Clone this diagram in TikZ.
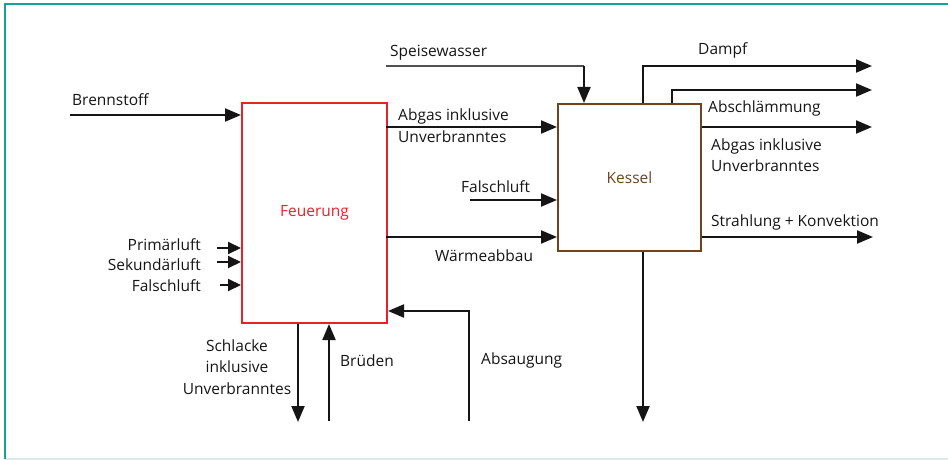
\documentclass[tikz,border=0pt]{standalone}
\usepackage{fontspec}
\setmainfont{Open Sans}
\usetikzlibrary{arrows.meta}
\definecolor{frameteal}{HTML}{17A19D}
\definecolor{framelight}{HTML}{D6ECEA}
\definecolor{feured}{HTML}{E8202A}
\definecolor{kesbrown}{HTML}{6E4420}
\definecolor{ink}{HTML}{151515}
\newcommand{\lblfont}{\fontsize{15.5}{21.5}\selectfont}
\tikzset{
  arr/.style={draw=ink, line width=2pt, -{Triangle[length=16pt,width=13pt]}},
  sarr/.style={draw=ink, line width=2pt, -{Triangle[length=13pt,width=12pt]}},
  plain/.style={draw=ink, line width=2pt},
  lbl/.style={font=\lblfont, text=ink, inner sep=0pt, anchor=base west},
  lblr/.style={lbl, anchor=base east},
  box/.style={line width=2pt, inner sep=0pt, anchor=north west, fill=white}
}
\begin{document}
\begin{tikzpicture}[x=1pt,y=-1pt]
\useasboundingbox (0,0) rectangle (948,460);
% frame
\draw[framelight, line width=2pt] (5,459) -- (948,459);
\draw[frameteal, line width=2pt] (5,459) -- (5,4) -- (948,4);
% boxes
\node[box, draw=feured, minimum width=145pt, minimum height=220pt,
      font=\lblfont, text=feured] (feu) at (241,102) {Feuerung};
\node[box, draw=kesbrown, minimum width=143pt, minimum height=147pt,
      font=\lblfont, text=kesbrown] (kes) at (557,103) {Kessel};
% inputs Feuerung
\coordinate (brS) at (70,115);
\draw[arr] (brS) -- (brS -| feu.west);
\node[lbl] (brL) at (72,106) {Brennstoff};
\coordinate (prS) at (217,248);
\coordinate (skS) at (217,262);
\coordinate (flS) at (220,285);
\draw[sarr] (prS) -- (prS -| feu.west);
\draw[sarr] (skS) -- (skS -| feu.west);
\draw[sarr] (flS) -- (flS -| feu.west);
\node[lblr] (prL) at (201,250) {Primärluft};
\node[lblr] (skL) at (201,270) {Sekundärluft};
\node[lblr] (flL) at (201,291) {Falschluft};
% Schlacke
\coordinate (slE) at (298,422);
\draw[arr] (slE |- feu.south) -- (slE);
\node[font=\lblfont, text=ink, align=center, inner sep=0pt] (slL) at (237,367) {Schlacke\\inklusive\\Unverbranntes};
% Brüden
\coordinate (bdS) at (329,421);
\draw[arr] (bdS) -- (bdS |- feu.south);
\node[lbl] (bdL) at (340,366) {Brüden};
% Absaugung
\coordinate (abS) at (469,421);
\coordinate (abK) at (469,311);
\draw[arr] (abS) -- (abK) -- (abK -| feu.east);
\node[lbl] (abL) at (481,364) {Absaugung};
% Feuerung -> Kessel
\coordinate (agS) at (386,127);
\draw[arr] (agS) -- (agS -| kes.west);
\node[lbl] (agL1) at (398,121) {Abgas inklusive};
\node[lbl] (agL2) at (398,142) {Unverbranntes};
\coordinate (wmS) at (386,237);
\draw[arr] (wmS) -- (wmS -| kes.west);
\node[lbl] (wmL) at (435,261) {Wärmeabbau};
% Falschluft Kessel
\coordinate (fkS) at (470,200);
\draw[arr] (fkS) -- (fkS -| kes.west);
\node[lbl] (fkL) at (461,192) {Falschluft};
% Speisewasser
\coordinate (swS) at (386,66);
\coordinate (swK) at (584,66);
\draw[draw=ink!75, line width=1.4pt] (swS) -- (swK);
\draw[arr] (swK) -- (swK |- kes.north);
\node[lbl] (swL) at (390,57) {Speisewasser};
% outputs Kessel
\coordinate (dpK) at (643,66);
\coordinate (dpE) at (872,66);
\draw[arr] (dpK |- kes.north) -- (dpK) -- (dpE);
\node[lbl] (dpL) at (698,55) {Dampf};
\coordinate (asK) at (672,90);
\coordinate (asE) at (872,90);
\draw[arr] (asK |- kes.north) -- (asK) -- (asE);
\node[lbl] (asL) at (708,112) {Abschlämmung};
\coordinate (aoE) at (872,127);
\draw[arr] (aoE -| kes.east) -- (aoE);
\node[lbl] (aoL1) at (711,150) {Abgas inklusive};
\node[lbl] (aoL2) at (711,171) {Unverbranntes};
\coordinate (skE) at (873,237);
\draw[arr] (skE -| kes.east) -- (skE);
\node[lbl] (skoL) at (711,226) {Strahlung + Konvektion};
\coordinate (kbE) at (643,422);
\draw[arr] (kbE |- kes.south) -- (kbE);
\end{tikzpicture}
\end{document}
